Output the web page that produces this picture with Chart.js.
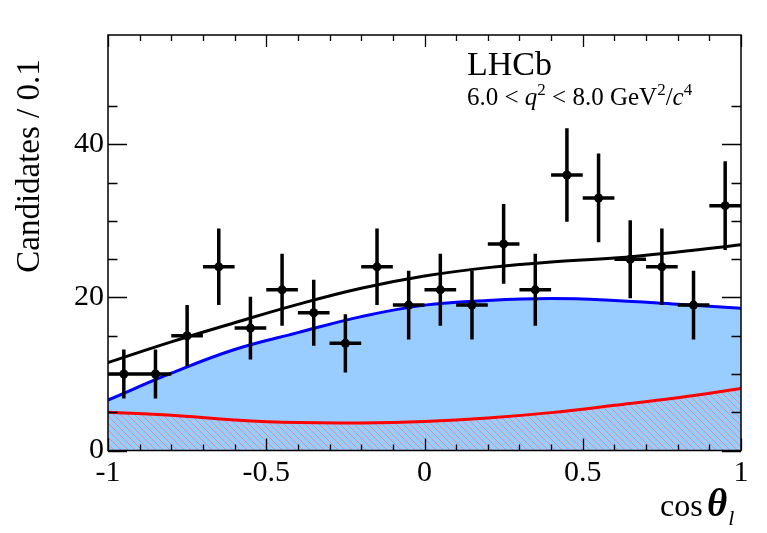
<!DOCTYPE html>
<html>
<head>
<meta charset="utf-8">
<script src="https://cdn.jsdelivr.net/npm/chart.js@4/dist/chart.umd.min.js"></script>
<style>
  html, body { margin: 0; padding: 0; background: #fff; }
  #wrap { width: 767px; height: 533px; }
</style>
</head>
<body>
<div id="wrap"><canvas id="chart" width="767" height="533"></canvas></div>
<script>
// data points: bin centres, candidates per bin, error bars
const binCentres = [-0.95, -0.85, -0.75, -0.65, -0.55, -0.45, -0.35, -0.25, -0.15, -0.05,
                    0.05, 0.15, 0.25, 0.35, 0.45, 0.55, 0.65, 0.75, 0.85, 0.95];
const counts = [10, 10, 15, 24, 16, 21, 18, 14, 24, 19, 21, 19, 27, 21, 36, 33, 25, 24, 19, 32];
const countErrors = [3.2, 3.2, 4.0, 5.0, 4.1, 4.7, 4.3, 3.8, 5.0, 4.5,
                     4.7, 4.5, 5.2, 4.7, 6.1, 5.8, 5.1, 5.0, 4.5, 5.8];
const binHalfWidth = 0.05;

// fit curves, read at a few cos(theta_l) values
const curveX = [-1, -0.8, -0.6, -0.4, -0.2, 0, 0.2, 0.4, 0.6, 0.8, 1];
const totalFit = [11.5, 14.2, 16.7, 19.1, 21.2, 22.8, 23.9, 24.65, 25.15, 25.95, 26.9];
const signalFit = [6.6, 10.1, 13.2, 15.4, 17.5, 19.0, 19.6, 19.85, 19.6, 19.1, 18.6];
const backgroundFit = [5.0, 4.6, 4.0, 3.65, 3.6, 3.8, 4.25, 4.95, 5.9, 6.9, 8.1];

const xLabels = ["-1", "-0.5", "0", "0.5", "1"];
const yLabels = ["0", "20", "40"];

const SERIF = "'Liberation Serif', 'DejaVu Serif', serif";

function pts(xs, ys) {
    return xs.map((x, i) => ({ x: x, y: ys[i] }));
}

// red hatching for the background component
function hatch() {
    const c = document.createElement("canvas");
    c.width = 7; c.height = 7;
    const g = c.getContext("2d");
    g.strokeStyle = "rgba(255,105,105,0.75)";
    g.lineWidth = 0.8;
    g.beginPath();
    g.moveTo(-1, -1); g.lineTo(8, 8);
    g.moveTo(-1, 6); g.lineTo(1, 8);
    g.moveTo(6, -1); g.lineTo(8, 1);
    g.stroke();
    return g.createPattern(c, "repeat");
}

function near(v, step) {
    return Math.abs(v / step - Math.round(v / step)) < 1e-6;
}

// error bars, frame, inner ticks and the text
const decor = {
    id: "decor",
    afterDatasetsDraw(chart) {
        const ctx = chart.ctx, xs = chart.scales.x, ys = chart.scales.y;
        ctx.save();
        ctx.strokeStyle = "#000";
        ctx.lineWidth = 3.5;
        ctx.beginPath();
        binCentres.forEach((c, i) => {
            const px = xs.getPixelForValue(c), py = ys.getPixelForValue(counts[i]);
            ctx.moveTo(px, ys.getPixelForValue(counts[i] + countErrors[i]));
            ctx.lineTo(px, ys.getPixelForValue(counts[i] - countErrors[i]));
            ctx.moveTo(xs.getPixelForValue(c - binHalfWidth), py);
            ctx.lineTo(xs.getPixelForValue(c + binHalfWidth), py);
        });
        ctx.stroke();
        ctx.restore();
    },
    afterDraw(chart) {
        const ctx = chart.ctx, a = chart.chartArea, xs = chart.scales.x, ys = chart.scales.y;
        ctx.save();
        ctx.strokeStyle = "#000";
        ctx.lineWidth = 1.3;
        ctx.beginPath();
        xs.ticks.forEach(t => {
            const px = Math.round(xs.getPixelForValue(t.value)) + 0.5;
            const len = near(t.value, 0.5) ? 12 : 6;
            ctx.moveTo(px, a.bottom); ctx.lineTo(px, a.bottom - len);
            ctx.moveTo(px, a.top); ctx.lineTo(px, a.top + len);
        });
        ys.ticks.forEach(t => {
            const py = Math.round(ys.getPixelForValue(t.value)) + 0.5;
            const len = near(t.value, 20) ? 19 : 9.5;
            ctx.moveTo(a.left, py); ctx.lineTo(a.left + len, py);
            ctx.moveTo(a.right, py); ctx.lineTo(a.right - len, py);
        });
        ctx.stroke();
        ctx.lineWidth = 1.5;
        ctx.strokeRect(a.left, a.top, a.right - a.left, a.bottom - a.top);

        ctx.fillStyle = "#000";
        ctx.textBaseline = "alphabetic";
        ctx.textAlign = "left";
        ctx.font = "34px " + SERIF;
        ctx.fillText("LHCb", 467, 75);

        // 6.0 < q^2 < 8.0 GeV^2/c^4
        let x = 467;
        const base = 105;
        const part = (txt, font, dy) => {
            ctx.font = font;
            ctx.fillText(txt, x, base + dy);
            x += ctx.measureText(txt).width;
        };
        const norm = "25px " + SERIF, ital = "italic 25px " + SERIF, sup = "17px " + SERIF;
        part("6.0 < ", norm, 0);
        part("q", ital, 0);
        part("2", sup, -10);
        part(" < 8.0 GeV", norm, 0);
        part("2", sup, -10);
        part("/", norm, 0);
        part("c", ital, 0);
        part("4", sup, -10);

        // x axis title: cos theta_l
        ctx.font = "32px " + SERIF;
        ctx.fillText("cos", 660, 516);
        ctx.font = "italic bold 39px " + SERIF;
        ctx.fillText("\u03b8", 707, 516);
        const tw = ctx.measureText("\u03b8").width;
        ctx.font = "italic 22px " + SERIF;
        ctx.fillText("l", 707 + tw + 1, 525);

        // y axis title
        ctx.translate(39, 166);
        ctx.rotate(-Math.PI / 2);
        ctx.textAlign = "center";
        ctx.font = "33px " + SERIF;
        ctx.fillText("Candidates / 0.1", 0, 0);
        ctx.restore();
    }
};

new Chart(document.getElementById("chart"), {
    type: "scatter",
    data: {
        datasets: [
            {
                label: "Data",
                data: pts(binCentres, counts),
                pointRadius: 4.5,
                pointBackgroundColor: "#000",
                pointBorderWidth: 0,
                order: 0
            },
            {
                label: "Total",
                data: pts(curveX, totalFit),
                showLine: true,
                borderColor: "#000",
                borderWidth: 3,
                pointRadius: 0,
                tension: 0.4,
                fill: false,
                order: 1
            },
            {
                label: "Background",
                data: pts(curveX, backgroundFit),
                showLine: true,
                borderColor: "#ff0000",
                borderWidth: 3,
                pointRadius: 0,
                tension: 0.4,
                fill: "origin",
                backgroundColor: hatch(),
                order: 2
            },
            {
                label: "Signal",
                data: pts(curveX, signalFit),
                showLine: true,
                borderColor: "#0000ff",
                borderWidth: 3,
                pointRadius: 0,
                tension: 0.4,
                fill: "origin",
                backgroundColor: "#99ccff",
                order: 3
            }
        ]
    },
    options: {
        responsive: false,
        animation: false,
        layout: { padding: { top: 35, right: 26, left: 0, bottom: 0 } },
        plugins: { legend: { display: false }, tooltip: { enabled: false } },
        scales: {
            x: {
                type: "linear",
                min: -1,
                max: 1,
                afterFit: s => { s.height = 82.5; },
                grid: { display: false, drawTicks: false },
                border: { display: false },
                ticks: {
                    stepSize: 0.1,
                    autoSkip: false,
                    maxRotation: 0,
                    padding: 5,
                    color: "#000",
                    font: { family: SERIF, size: 30 },
                    callback: v => near(v, 0.5) ? xLabels[Math.round((v + 1) * 2)] : ""
                }
            },
            y: {
                min: 0,
                max: 54.3,
                afterFit: s => { s.width = 108; },
                afterBuildTicks: s => { s.ticks = s.ticks.filter(t => near(t.value, 5)); },
                grid: { display: false, drawTicks: false },
                border: { display: false },
                ticks: {
                    stepSize: 5,
                    autoSkip: false,
                    padding: 4,
                    color: "#000",
                    font: { family: SERIF, size: 30 },
                    callback: v => near(v, 20) ? yLabels[Math.round(v / 20)] : ""
                }
            }
        }
    },
    plugins: [decor]
});
</script>
</body>
</html>
